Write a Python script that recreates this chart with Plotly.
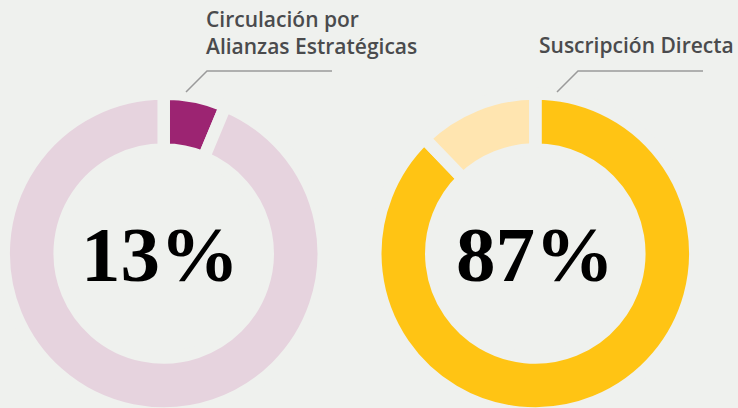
import plotly.graph_objects as go

W, H = 738, 416   # canvas slightly taller than the 408 window; page overflow hidden
BG = "#eff1ee"

# Data
left_labels = ["Circulación por Alianzas Estratégicas", "Resto"]
left_values = [6.3, 93.7]
left_colors = ["#9c2472", "#e6d3de"]
left_pct = "13%"
left_title = "Circulación por<br>Alianzas Estratégicas"

right_labels = ["Suscripción Directa", "Resto"]
right_values = [87.8, 12.2]
right_colors = ["#ffc414", "#ffe5b0"]
right_pct = "87%"
right_title = "Suscripción Directa"

def px(x):
    return x / W

def py(y):
    return 1 - y / H

R = 160
CY = 253.5
def dom(cx):
    return dict(x=[px(cx - R), px(cx + R)], y=[py(CY + R), py(CY - R)])

fig = go.Figure()
for labels, values, colors, cx in [
    (left_labels, left_values, left_colors, 163.7),
    (right_labels, right_values, right_colors, 535.3),
]:
    fig.add_trace(go.Pie(
        labels=labels, values=values, sort=False, direction="clockwise",
        rotation=0, hole=0.65, textinfo="none", hoverinfo="label+percent",
        marker=dict(colors=colors, line=dict(color=BG, width=12.5)),
        domain=dom(cx), showlegend=False,
    ))

label_font = dict(family="Open Sans", size=21, color="#4a4b4d", weight=600)
pct_font = dict(family="Liberation Serif", size=79, color="#000000", weight=700)

annotations = [
    dict(text=left_title, x=px(205), y=py(4), xanchor="left", yanchor="top",
         align="left", showarrow=False, font=label_font, borderpad=0),
    dict(text=right_title, x=px(538), y=py(30), xanchor="left", yanchor="top",
         align="left", showarrow=False, font=label_font, borderpad=0),
    dict(text=left_pct, x=px(160), y=py(254), xanchor="center", yanchor="middle",
         showarrow=False, font=pct_font),
    dict(text=right_pct, x=px(535), y=py(254), xanchor="center", yanchor="middle",
         showarrow=False, font=pct_font),
]

line_style = dict(color="#9a9a9a", width=1.5)
shapes = []
for pts in [[(186, 92), (207, 71), (332, 71)], [(557, 92), (578, 71), (703, 71)]]:
    path = "M " + " L ".join(f"{px(x)},{py(y)}" for x, y in pts)
    shapes.append(dict(type="path", path=path, xref="paper", yref="paper", line=line_style))

fig.update_layout(
    width=W, height=H, margin=dict(l=0, r=0, t=0, b=0),
    paper_bgcolor=BG, plot_bgcolor=BG,
    annotations=annotations, shapes=shapes,
)
fig.write_html(
    "out.html",
    config={"displayModeBar": False},
    post_script=("document.documentElement.style.overflow='hidden';"
                 "document.body.style.margin='0';"
                 "document.body.style.overflow='hidden';"
                 "document.body.style.background='#eff1ee';"),
)
